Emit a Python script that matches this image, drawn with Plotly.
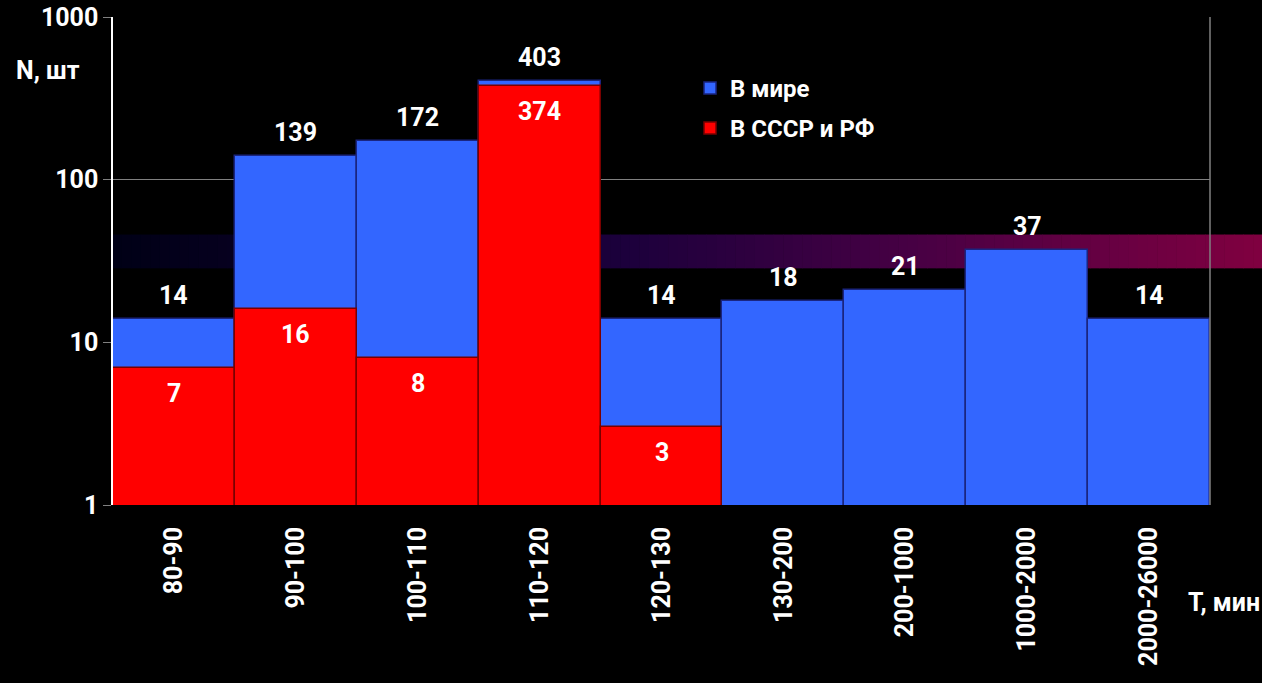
import numpy as np
import plotly.graph_objects as go

# Orbital period bins (minutes) and number of objects per bin
categories = ["80-90", "90-100", "100-110", "110-120", "120-130",
              "130-200", "200-1000", "1000-2000", "2000-26000"]
world = [14, 139, 172, 403, 14, 18, 21, 37, 14]
ussr_rf = [7, 16, 8, 374, 3, None, None, None, None]
y_ticks = [1, 10, 100, 1000]

# Decorative gradient band (in data units on the log axis)
band_low, band_high = 28.5, 46

FONT = "Roboto"
BLUE = "#3366ff"
RED = "#ff0000"
WEIGHT = 700

fig = go.Figure()

fig.add_trace(go.Bar(
    x=categories, y=world, name="В мире",
    marker=dict(color=BLUE, line=dict(color="#1a2580", width=1.5)),
    legendgroup="a",
))
fig.add_trace(go.Bar(
    x=categories, y=ussr_rf, name="В СССР и РФ",
    marker=dict(color=RED, line=dict(color="#7a0000", width=1.5)),
    legendgroup="b",
))

# Value labels: world counts above the bars, USSR/RF counts inside the red bars
for c, v in zip(categories, world):
    fig.add_annotation(x=c, y=np.log10(v), text=str(v), showarrow=False,
                       yanchor="bottom", yshift=7,
                       font=dict(family=FONT, size=25, color="white", weight=WEIGHT))
for c, v in zip(categories, ussr_rf):
    if v is None:
        continue
    fig.add_annotation(x=c, y=np.log10(v), text=str(v), showarrow=False,
                       yanchor="top", yshift=-9,
                       font=dict(family=FONT, size=25, color="white", weight=WEIGHT))

# Gradient band built from narrow strips
stops_t = [0.0, 0.45, 0.7, 1.0]
stops_rgb = [(0, 0, 22), (28, 0, 60), (72, 0, 68), (128, 0, 64)]
x_start, x_end = -0.001, 1.048
n_strips = 120
y0p = np.log10(band_low) / 3
y1p = np.log10(band_high) / 3
for i in range(n_strips):
    t = (i + 0.5) / n_strips
    r = np.interp(t, stops_t, [c[0] for c in stops_rgb])
    g = np.interp(t, stops_t, [c[1] for c in stops_rgb])
    b = np.interp(t, stops_t, [c[2] for c in stops_rgb])
    xa = x_start + (x_end - x_start) * i / n_strips
    xb = x_start + (x_end - x_start) * (i + 1) / n_strips + 0.0005
    fig.add_shape(type="rect", xref="paper", yref="paper",
                  x0=xa, x1=xb, y0=y0p, y1=y1p, layer="below",
                  line=dict(width=0), fillcolor=f"rgb({r:.0f},{g:.0f},{b:.0f})")

# Right border of the plot area
fig.add_shape(type="line", xref="paper", yref="paper", x0=1, x1=1, y0=0, y1=1,
              line=dict(color="#808080", width=1.5), layer="above")

# Axis titles
fig.add_annotation(xref="paper", yref="paper", x=-0.09, y=0.89, text="N, шт",
                   showarrow=False, xanchor="left", yanchor="middle",
                   font=dict(family=FONT, size=25, color="white", weight=WEIGHT))
fig.add_annotation(xref="paper", yref="paper", x=1.047, y=-0.2, text="T, мин",
                   showarrow=False, xanchor="right", yanchor="middle",
                   font=dict(family=FONT, size=25, color="white", weight=WEIGHT))

fig.update_layout(
    width=1262, height=683,
    margin=dict(l=113, r=52, t=17, b=178, autoexpand=False),
    paper_bgcolor="black", plot_bgcolor="black",
    barmode="overlay", bargap=0,
    showlegend=True,
    legend=dict(x=0.526, y=0.90, xanchor="left", yanchor="top",
                bgcolor="rgba(0,0,0,0)", traceorder="grouped", tracegroupgap=6,
                font=dict(family=FONT, size=24, color="white", weight=WEIGHT)),
    xaxis=dict(
        tickangle=-90, showgrid=False, showline=False, ticks="",
        ticklabelstandoff=16, automargin=False,
        tickfont=dict(family=FONT, size=25, color="white", weight=WEIGHT),
    ),
    yaxis=dict(
        type="log", range=[0, 3], tickvals=y_ticks,
        ticktext=[str(v) for v in y_ticks], automargin=False,
        showgrid=True, gridcolor="#808080", gridwidth=1,
        showline=True, linecolor="white", linewidth=1.5,
        ticks="outside", ticklen=8, tickcolor="#808080",
        tickfont=dict(family=FONT, size=25, color="white", weight=WEIGHT),
        zeroline=False,
    ),
)

fig.write_html("out.html")
